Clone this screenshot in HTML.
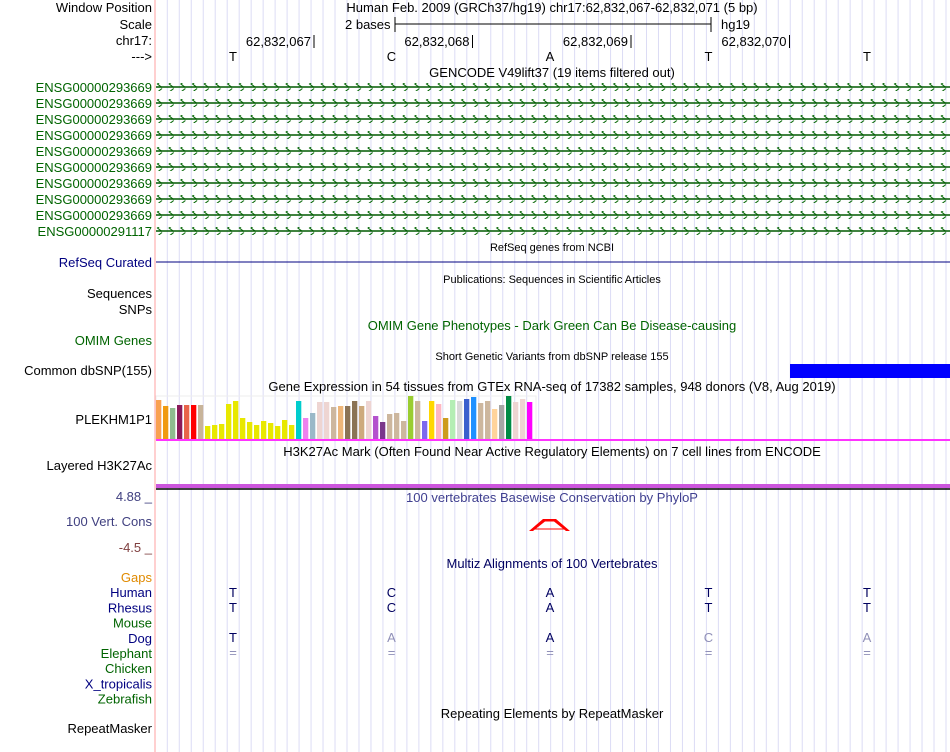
<!DOCTYPE html>
<html><head><meta charset="utf-8"><style>
html,body{margin:0;padding:0;background:#fff;}
svg{display:block;font-family:"Liberation Sans",sans-serif;}
</style></head><body>
<svg id="c" width="950" height="752" viewBox="0 0 950 752" xmlns="http://www.w3.org/2000/svg">
<defs>
<pattern id="chev" x="156" y="0" width="11.7" height="8" patternUnits="userSpaceOnUse">
<path d="M6,0.5 L1.5,4 L6,7.5" fill="none" stroke="#006400" stroke-width="1.1"/>
</pattern>
</defs>
<g id="grid"></g>
<line x1="155" y1="0" x2="155" y2="752" stroke="#ffa0a0" stroke-width="1"/>
<g id="content"></g>
</svg>
<script>
const bases = ["T","C","A","T","T"];
const baseLabels = ["62,832,067","62,832,068","62,832,069","62,832,070"];
const gteValues = [39,33,31,34,34,34,34,13,14,15,35,38,21,17,14,18,16,13,19,14,38,21,26,37,37,32,33,33,38,33,38,23,17,25,26,18,43,38,18,38,35,21,39,38,40,42,36,38,30,34,43,37,40,37];
const gteColors = ["#f9a050","#f09a10","#8fbc8f","#8b1a5a","#e8644a","#ff0000","#c8b49a","#e8e800","#e8e800","#e8e800","#e8e800","#e8e800","#e8e800","#e8e800","#e8e800","#e8e800","#e8e800","#e8e800","#e8e800","#e8e800","#00cdcd","#ee82ee","#9ab8c8","#eed5d2","#eed5d2","#cdb79e","#eeb679","#8b7355","#8b7355","#cdaa7d","#eed5d2","#b452cd","#7a378b","#cdb79e","#cdb79e","#cdb79e","#9acd32","#cdb79e","#7b68ee","#ffd700","#ffb6c1","#cd9b1d","#b4eeb4","#d9d9d9","#3a5fcd","#1e90ff","#cdb79e","#cdb79e","#ffd39b","#a6a6a6","#008b45","#eed5d2","#eed5d2","#ff00ff"];
const ensgNames = ["ENSG00000293669","ENSG00000293669","ENSG00000293669","ENSG00000293669","ENSG00000293669","ENSG00000293669","ENSG00000293669","ENSG00000293669","ENSG00000293669","ENSG00000291117"];
const species = [["Gaps","#e08a00"],["Human","#000080"],["Rhesus","#000080"],["Mouse","#006400"],["Dog","#000080"],["Elephant","#006400"],["Chicken","#006400"],["X_tropicalis","#000080"],["Zebrafish","#006400"]];
const rhesus = ["T","C","A","T","T"];
const dog = ["T","A","A","C","A"];
const dogMatch = [true,false,true,false,false];

const NS="http://www.w3.org/2000/svg";
const g=document.getElementById('content');
const grid=document.getElementById('grid');
function el(tag,attrs,parent){const e=document.createElementNS(NS,tag);for(const k in attrs)e.setAttribute(k,attrs[k]);(parent||g).appendChild(e);return e;}
function txt(x,y,s,o){o=o||{};const t=el('text',{x:x,y:y,'font-size':o.fs||13,fill:o.c||'#000','text-anchor':o.a||'start'});t.textContent=s;return t;}
const baseX=i=>233+i*158.5;

for(let x=167.3;x<950;x+=11.98){const l=el('line',{x1:x,y1:0,x2:x,y2:752,stroke:'#dcdcf5','stroke-width':1},grid);

}

function label(y,s,c){const t=txt(152,y,s,{c:c||'#000',a:'end',fs:13});

return t;}
function title(y,s,c,fs){const t=txt(552,y,s,{c:c||'#000',a:'middle',fs:fs||13});

return t;}

label(12,"Window Position");label(29,"Scale");label(45,"chr17:");label(61,"--->");
let t=txt(552,12,"Human Feb. 2009 (GRCh37/hg19)   chr17:62,832,067-62,832,071 (5 bp)",{a:'middle'});


t.setAttribute('xml:space','preserve');
t=txt(345,29,"2 bases");


let sb=el('path',{d:'M395,17 V32 M395,24 H711 M711,17 V32',stroke:'#000',fill:'none'});


t=txt(721,29,"hg19");


baseLabels.forEach((s,i)=>{const x=314+i*158.5;const tt=txt(x-3,46,s,{a:'end'});


const l=el('line',{x1:x,y1:35,x2:x,y2:48,stroke:'#000'});

});
bases.forEach((b,i)=>{const tt=txt(baseX(i),61,b,{a:'middle'});

});

title(77,"GENCODE V49lift37 (19 items filtered out)");
ensgNames.forEach((n,i)=>{const y=87+i*16;label(y+5,n,'#006400');
const r=el('rect',{x:156,y:y-4,width:794,height:8,fill:'url(#chev)'});


const l=el('line',{x1:156,y1:y,x2:950,y2:y,stroke:'#005a00','stroke-width':1.6});

});

title(251,"RefSeq genes from NCBI",'#000',11);
label(267,"RefSeq Curated",'#000080');
let rl=el('line',{x1:156,y1:262,x2:950,y2:262,stroke:'#000080'});


title(283,"Publications: Sequences in Scientific Articles",'#000',11);
label(298,"Sequences");label(314,"SNPs");
title(330,"OMIM Gene Phenotypes - Dark Green Can Be Disease-causing",'#006400');
label(345,"OMIM Genes",'#006400');
title(360,"Short Genetic Variants from dbSNP release 155",'#000',11);
label(375,"Common dbSNP(155)");
let snp=el('rect',{x:790,y:364,width:160,height:14,fill:'#0000ff'});


title(391,"Gene Expression in 54 tissues from GTEx RNA-seq of 17382 samples, 948 donors (V8, Aug 2019)");
label(424,"PLEKHM1P1");
const baseY=439;
let frame=el('rect',{x:156,y:396,width:380,height:43,fill:'none',stroke:'#eeeeee'});


gteValues.forEach((v,i)=>{const r=el('rect',{x:156+i*7,y:baseY-v,width:5.3,height:v,fill:gteColors[i]});

});
let ml=el('rect',{x:156,y:439,width:794,height:2,fill:'#ff33ff'});


title(456,"H3K27Ac Mark (Often Found Near Active Regulatory Elements) on 7 cell lines from ENCODE");
label(470,"Layered H3K27Ac");
let hb=el('rect',{x:156,y:484,width:794,height:4,fill:'#cc55dd'});


let hl=el('line',{x1:156,y1:489,x2:950,y2:489,stroke:'#000','stroke-width':1.5});


label(501,"4.88 _",'#404080');
title(502,"100 vertebrates Basewise Conservation by PhyloP",'#404090');
label(526,"100 Vert. Cons",'#404080');
label(552,"-4.5 _",'#804040');
let ph=el('path',{d:'M529,531 L543,519 L556,519 L570,531 L566,531 L554,521.5 L545,521.5 L533,531 Z M535,528.5 H564 V529.5 H535 Z',fill:'#ff0000'});


title(568,"Multiz Alignments of 100 Vertebrates",'#000060');
species.forEach((s,i)=>label(582+i*15.2,s[0],s[1]));
bases.forEach((b,i)=>{
 let a=txt(baseX(i),597,b,{a:'middle',c:'#000060'});
 
 
 a=txt(baseX(i),612,rhesus[i],{a:'middle',c:'#000060'});
 
 
 a=txt(baseX(i),642,dog[i],{a:'middle',c:dogMatch[i]?'#000060':'#9090b8'});
 
 
 a=txt(baseX(i),657,"=",{a:'middle',c:'#9090b8'});
 
 
});
title(718,"Repeating Elements by RepeatMasker");
label(733,"RepeatMasker");
</script>
</body></html>
